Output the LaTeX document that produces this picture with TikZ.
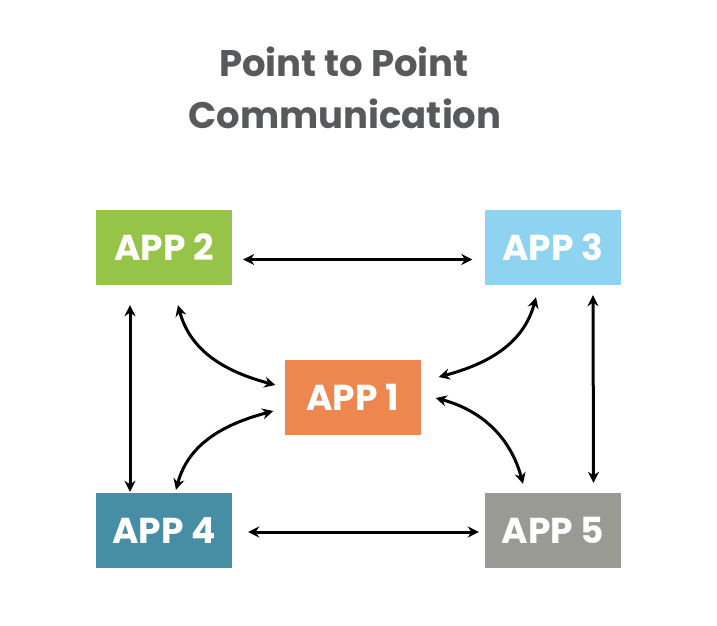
\documentclass[tikz,border=0pt]{standalone}
\usepackage{fontspec}
\setmainfont{Poppins}
\usepackage{tikz}
\usetikzlibrary{arrows.meta,calc,positioning}
\definecolor{titelgrau}{HTML}{58595B}
\definecolor{appgruen}{HTML}{96C449}
\definecolor{appblau}{HTML}{8ED3EF}
\definecolor{apporange}{HTML}{EE874F}
\definecolor{apptuerkis}{HTML}{458EA3}
\definecolor{appgrau}{HTML}{9A9A95}

\begin{document}
\begin{tikzpicture}[x=1pt,y=-1pt,
  appbox/.style={minimum width=136pt,minimum height=75pt,inner sep=0pt,
    text=white,font=\fontsize{36}{36}\selectfont\bfseries},
  titel/.style={text=titelgrau,font=\fontsize{37}{37}\selectfont\bfseries,anchor=base},
  verbindung/.style={line width=3pt,{Stealth[length=11pt,width=11pt]}-{Stealth[length=11pt,width=11pt]}}]
%Maße in Pixeln des Originals, 1px = 1pt, y nach unten
\useasboundingbox (0,0) rectangle (717,626);
\node[titel] (titel1) at (344,77) {Point to Point};
\node[titel] (titel2) at (345,128) {Communication};
%die fuenf Kaesten
\foreach \name/\farbe/\x/\y/\nr in {app1/apporange/352.5/397/1, app2/appgruen/164/247.5/2,
  app3/appblau/552.5/247.5/3, app4/apptuerkis/164/530.5/4, app5/appgrau/553/530.5/5}{
  \node[appbox,fill=\farbe] (\name) at (\x,\y) {APP \nr};
}
%gerade Pfeile aussen
\draw[verbindung] ([xshift=11pt,yshift=-12pt]app2.east) -- ([xshift=-12pt,yshift=-12pt]app3.west);
\draw[verbindung] ([xshift=16pt,yshift=-1.5pt]app4.east) -- ([xshift=-6pt,yshift=-1.5pt]app5.west);
\draw[verbindung] ([xshift=-34pt,yshift=-20pt]app2.south) -- ([xshift=-34pt,yshift=1pt]app4.north);
\draw[verbindung] ([xshift=40.5pt,yshift=-10pt]app3.south) -- ([xshift=40.5pt,yshift=10pt]app5.north);
%gebogene Pfeile zur Mitte
\draw[verbindung] ([xshift=14pt,yshift=-20pt]app2.south) to[out=-75,in=165] ([xshift=-9pt,yshift=12pt]app1.west);
\draw[verbindung] ([xshift=12pt,yshift=3pt]app4.north) to[out=75,in=195] ([xshift=-11pt,yshift=-14pt]app1.west);
\draw[verbindung] ([xshift=-16.5pt,yshift=-12pt]app3.south) to[out=-105,in=15] ([xshift=18pt,yshift=20pt]app1.east);
\draw[verbindung] ([xshift=15pt,yshift=-1pt]app1.east) to[out=-15,in=105] ([xshift=-30pt,yshift=9pt]app5.north);
\end{tikzpicture}
\end{document}
